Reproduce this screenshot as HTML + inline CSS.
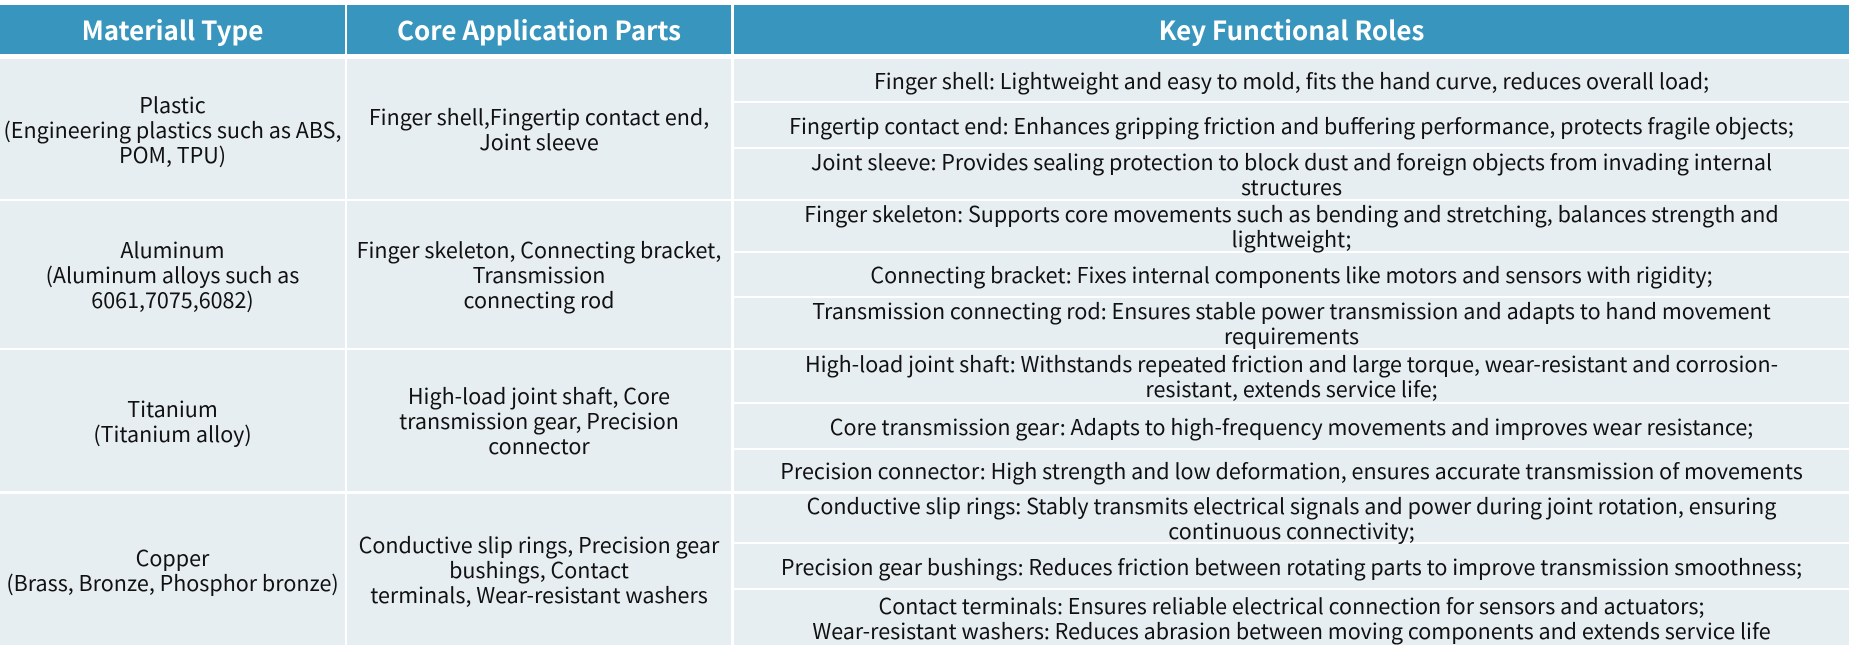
<!DOCTYPE html>
<html><head><meta charset="utf-8"><style>
html,body{margin:0;padding:0;background:#fff;width:1851px;height:655px;overflow:hidden}
.c{position:absolute;display:flex;align-items:center;justify-content:center;text-align:center;background:#e7eef2;color:#111;font-family:"Noto Sans CJK SC","Liberation Sans",sans-serif;font-size:21.5px;line-height:25px;white-space:nowrap}
.h{background:#3895bd;color:#fff;font-weight:bold;font-size:26px}
</style></head><body>
<div class="c h" style="left:0;top:5px;width:345px;height:49px">Materiall Type</div>
<div class="c h" style="left:347px;top:5px;width:384px;height:49px">Core Application Parts</div>
<div class="c h" style="left:734px;top:5px;width:1115px;height:49px">Key Functional Roles</div>

<div class="c" style="left:0;top:59px;width:345px;height:140px">Plastic<br>(Engineering plastics such as ABS,<br>POM, TPU)</div>
<div class="c" style="left:347px;top:59px;width:384px;height:140px">Finger shell,Fingertip contact end,<br>Joint sleeve</div>
<div class="c" style="left:734px;top:59px;width:1115px;height:42px">Finger shell: Lightweight and easy to mold, fits the hand curve, reduces overall load;</div>
<div class="c" style="left:734px;top:103px;width:1115px;height:44px">Fingertip contact end: Enhances gripping friction and buffering performance, protects fragile objects;</div>
<div class="c" style="left:734px;top:149px;width:1115px;height:50px">Joint sleeve: Provides sealing protection to block dust and foreign objects from invading internal<br>structures</div>

<div class="c" style="left:0;top:201px;width:345px;height:147px">Aluminum<br>(Aluminum alloys such as<br>6061,7075,6082)</div>
<div class="c" style="left:347px;top:201px;width:384px;height:147px">Finger skeleton, Connecting bracket,<br>Transmission<br>connecting rod</div>
<div class="c" style="left:734px;top:201px;width:1115px;height:50px">Finger skeleton: Supports core movements such as bending and stretching, balances strength and<br>lightweight;</div>
<div class="c" style="left:734px;top:253px;width:1115px;height:43px">Connecting bracket: Fixes internal components like motors and sensors with rigidity;</div>
<div class="c" style="left:734px;top:298px;width:1115px;height:50px">Transmission connecting rod: Ensures stable power transmission and adapts to hand movement<br>requirements</div>

<div class="c" style="left:0;top:350px;width:345px;height:141px">Titanium<br>(Titanium alloy)</div>
<div class="c" style="left:347px;top:350px;width:384px;height:141px">High-load joint shaft, Core<br>transmission gear, Precision<br>connector</div>
<div class="c" style="left:734px;top:350px;width:1115px;height:52px">High-load joint shaft: Withstands repeated friction and large torque, wear-resistant and corrosion-<br>resistant, extends service life;</div>
<div class="c" style="left:734px;top:404px;width:1115px;height:44px">Core transmission gear: Adapts to high-frequency movements and improves wear resistance;</div>
<div class="c" style="left:734px;top:450px;width:1115px;height:41px">Precision connector: High strength and low deformation, ensures accurate transmission of movements</div>

<div class="c" style="left:0;top:494px;width:345px;height:151px">Copper<br>(Brass, Bronze, Phosphor bronze)</div>
<div class="c" style="left:347px;top:494px;width:384px;height:151px">Conductive slip rings, Precision gear<br>bushings, Contact<br>terminals, Wear-resistant washers</div>
<div class="c" style="left:734px;top:494px;width:1115px;height:48px">Conductive slip rings: Stably transmits electrical signals and power during joint rotation, ensuring<br>continuous connectivity;</div>
<div class="c" style="left:734px;top:544px;width:1115px;height:44px">Precision gear bushings: Reduces friction between rotating parts to improve transmission smoothness;</div>
<div class="c" style="left:734px;top:590px;width:1115px;height:55px">Contact terminals: Ensures reliable electrical connection for sensors and actuators;<br>Wear-resistant washers: Reduces abrasion between moving components and extends service life</div>
</body></html>
